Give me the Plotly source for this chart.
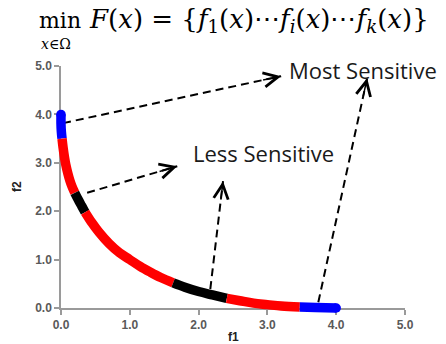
import plotly.graph_objects as go

# ---------------- data ----------------
blue_top_f1 = [0.00, 0.00, 0.005, 0.015]
blue_top_f2 = [4.00, 3.80, 3.65, 3.50]
red_a_f1 = [0.015, 0.03, 0.05, 0.07, 0.10, 0.13, 0.16, 0.20]
red_a_f2 = [3.50, 3.32, 3.12, 2.96, 2.78, 2.63, 2.51, 2.38]
black_a_f1 = [0.20, 0.25, 0.30, 0.35]
black_a_f2 = [2.38, 2.24, 2.11, 1.98]
red_b_f1 = [0.35, 0.45, 0.55, 0.70, 0.85, 1.00, 1.15, 1.30, 1.45, 1.63]
red_b_f2 = [1.98, 1.76, 1.57, 1.33, 1.14, 1.00, 0.86, 0.74, 0.63, 0.52]
black_b_f1 = [1.63, 1.80, 2.00, 2.20, 2.41]
black_b_f2 = [0.52, 0.43, 0.34, 0.27, 0.20]
red_c_f1 = [2.41, 2.60, 2.80, 3.00, 3.20, 3.47]
red_c_f2 = [0.20, 0.15, 0.10, 0.07, 0.04, 0.02]
blue_bot_f1 = [3.47, 3.70, 4.00]
blue_bot_f2 = [0.02, 0.01, 0.00]

# arrows: (start f1, start f2, tip f1, tip f2)
arrow_start_f1 = [0.03, 0.38, 2.17, 3.74]
arrow_start_f2 = [3.82, 2.38, 0.39, 0.12]
arrow_tip_f1 = [3.20, 1.69, 2.355, 4.45]
arrow_tip_f2 = [4.79, 2.93, 2.62, 4.75]

labels = ["Most Sensitive", "Less Sensitive"]
label_f1 = [4.39, 2.95]
label_f2 = [4.92, 3.20]

ticks = [0, 1, 2, 3, 4, 5]
tick_text = ["0.0", "1.0", "2.0", "3.0", "4.0", "5.0"]

# ---------------- layout geometry ----------------
W, H = 446, 344
ML, MR, MT, MB = 40, 20, 50, 20          # outer plotting area
AX0, AX1 = 61, 405                       # visible x axis in px
AY0, AY1 = 66, 308                       # visible y axis in px (top, bottom)
areaW = W - ML - MR
areaH = H - MT - MB
xd = [(AX0 - ML) / areaW, (AX1 - ML) / areaW]
yd = [(H - MB - AY1) / areaH, (H - MB - AY0) / areaH]
xs = 5 / (xd[1] - xd[0])
ys = 5 / (yd[1] - yd[0])
x2range = [0 - xd[0] * xs, 5 + (1 - xd[1]) * xs]
y2range = [0 - yd[0] * ys, 5 + (1 - yd[1]) * ys]
pxx = (AX1 - AX0) / 5
pxy = (AY1 - AY0) / 5

fig = go.Figure()

segs = [
    (blue_top_f1, blue_top_f2, "#0000FF"),
    (red_a_f1, red_a_f2, "#FF0000"),
    (black_a_f1, black_a_f2, "#000000"),
    (red_b_f1, red_b_f2, "#FF0000"),
    (black_b_f1, black_b_f2, "#000000"),
    (red_c_f1, red_c_f2, "#FF0000"),
    (blue_bot_f1, blue_bot_f2, "#0000FF"),
]
for fx, fy, col in segs:
    fig.add_trace(go.Scatter(x=fx, y=fy, mode="lines", xaxis="x2", yaxis="y2",
                             line=dict(color=col, width=9.5, shape="spline"),
                             hoverinfo="skip", showlegend=False))
# round ends
fig.add_trace(go.Scatter(x=[blue_top_f1[0], blue_bot_f1[-1]], y=[blue_top_f2[0], blue_bot_f2[-1]],
                         mode="markers", xaxis="x2", yaxis="y2",
                         marker=dict(color="#0000FF", size=9.5), hoverinfo="skip", showlegend=False))

# dashed arrow lines
annotations = []
for sx, sy, tx, ty in zip(arrow_start_f1, arrow_start_f2, arrow_tip_f1, arrow_tip_f2):
    fig.add_trace(go.Scatter(x=[sx, tx], y=[sy, ty], mode="lines",
                             line=dict(color="black", width=2, dash="8px,5px"),
                             hoverinfo="skip", showlegend=False))
    dx = (sx - tx) * pxx
    dy = -(sy - ty) * pxy
    n = (dx * dx + dy * dy) ** 0.5
    annotations.append(dict(x=tx, y=ty, xref="x", yref="y", text="", showarrow=True,
                            ax=dx / n * 20, ay=dy / n * 20, arrowhead=5, arrowsize=1.9,
                            arrowwidth=1.5, arrowcolor="black"))

for t, lx, ly in zip(labels, label_f1, label_f2):
    annotations.append(dict(x=lx, y=ly, xref="x", yref="y", text=t, showarrow=False,
                            font=dict(family="Open Sans", size=22, color="#1a1a1a"),
                            xanchor="center", yanchor="middle"))


def px2paper(px, py):
    return (px - ML) / areaW, (H - MB - py) / areaH


# title formula
p = px2paper(60, 21)
annotations.append(dict(x=p[0], y=p[1], xref="paper", yref="paper", text="min", showarrow=False,
                        font=dict(family="DejaVu Serif", size=22, color="black"),
                        xanchor="center", yanchor="middle"))
p = px2paper(56, 44)
annotations.append(dict(x=p[0], y=p[1], xref="paper", yref="paper", text="<i>x</i>∈Ω",
                        showarrow=False, font=dict(family="DejaVu Serif", size=14, color="black"),
                        xanchor="center", yanchor="middle"))
p = px2paper(87, 21)
annotations.append(dict(x=p[0], y=p[1], xref="paper", yref="paper",
                        text="<i>F</i>(<i>x</i>) = {<i>f</i><sub>1</sub>(<i>x</i>)⋯<i>f<sub>i</sub></i>(<i>x</i>)⋯<i>f<sub>k</sub></i>(<i>x</i>)}",
                        showarrow=False, font=dict(family="DejaVu Serif", size=26, color="black"),
                        xanchor="left", yanchor="middle"))

# axis titles
p = px2paper(233, 337)
annotations.append(dict(x=p[0], y=p[1], xref="paper", yref="paper", text="<b>f1</b>", showarrow=False,
                        font=dict(family="Liberation Sans", size=12, color="#222"),
                        xanchor="center", yanchor="middle"))
p = px2paper(17, 187)
annotations.append(dict(x=p[0], y=p[1], xref="paper", yref="paper", text="<b>f2</b>", showarrow=False,
                        textangle=-90, font=dict(family="Liberation Sans", size=12, color="#222"),
                        xanchor="center", yanchor="middle"))

axis_common = dict(range=[0, 5], tickvals=ticks, ticktext=tick_text, showgrid=False, zeroline=False,
                   showline=True, linecolor="#9a9a9a", linewidth=1.5, ticks="outside", ticklen=5,
                   tickcolor="#9a9a9a", tickwidth=1.5,
                   tickfont=dict(family="Liberation Sans", size=12, color="#595959", weight="bold"))

fig.update_layout(
    width=W, height=H, margin=dict(l=ML, r=MR, t=MT, b=MB),
    paper_bgcolor="white", plot_bgcolor="rgba(0,0,0,0)",
    xaxis=dict(domain=xd, anchor="y", **axis_common),
    yaxis=dict(domain=yd, anchor="x", **axis_common),
    xaxis2=dict(domain=[0, 1], range=x2range, anchor="y2", visible=False),
    yaxis2=dict(domain=[0, 1], range=y2range, anchor="x2", visible=False),
    annotations=annotations,
    showlegend=False,
)

fig.write_html("out.html")
